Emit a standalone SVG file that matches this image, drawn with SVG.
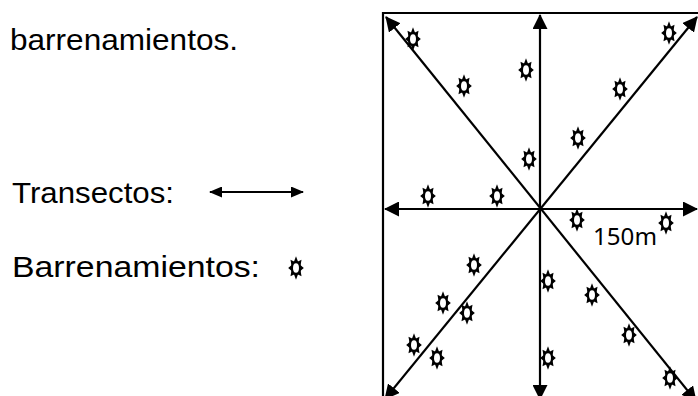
<svg xmlns="http://www.w3.org/2000/svg" xmlns:xlink="http://www.w3.org/1999/xlink" width="698" height="396" viewBox="0 0 698 396">
<style>
.t{font-family:"Liberation Sans",Arial,sans-serif;font-size:30px;fill:#000}
.m{font-family:"Noto Sans","Open Sans",sans-serif;font-size:24px;fill:#000}
.ln{stroke:#000;stroke-width:2.2;fill:none}
.ar{marker-start:url(#ah);marker-end:url(#ah)}
.arl{marker-start:url(#ahs);marker-end:url(#ahs)}
</style>
<defs>
<marker id="ah" markerUnits="userSpaceOnUse" markerWidth="15" markerHeight="15" refX="14" refY="7.5" orient="auto-start-reverse" viewBox="0 0 15 15"><path d="M0,0 L15,7.5 L0,15 z" fill="#000"/></marker>
<marker id="ahs" markerUnits="userSpaceOnUse" markerWidth="13" markerHeight="11" refX="12" refY="5.5" orient="auto-start-reverse" viewBox="0 0 13 11"><path d="M0,0 L13,5.5 L0,11 z" fill="#000"/></marker>
<g id="s">
<g transform="scale(1.15,1.12)">
<ellipse cx="0" cy="0" rx="4.4" ry="6.3" fill="#000"/>
<polygon fill="#000" points="0,-10.5 1.7,-5.8 4.8,-7.4 4.0,-2.5 6.8,0 4.0,2.5 4.8,7.4 1.7,5.8 0,10.5 -1.7,5.8 -4.8,7.4 -4.0,2.5 -6.8,0 -4.0,-2.5 -4.8,-7.4 -1.7,-5.8"/>
<ellipse cx="0" cy="0" rx="2.6" ry="4.2" fill="#fff"/>
</g>
</g>
</defs>
<rect width="698" height="396" fill="#fff"/>
<g id="text">
<text class="t" x="10" y="50" textLength="228" lengthAdjust="spacingAndGlyphs">barrenamientos.</text>
</g>
<g id="legend">
<text class="t" x="12" y="203" textLength="162" lengthAdjust="spacingAndGlyphs">Transectos:</text>
<text class="t" x="12" y="277" textLength="248" lengthAdjust="spacingAndGlyphs">Barrenamientos:</text>
<line class="ln arl" x1="210" y1="192" x2="303" y2="192"/>
<use xlink:href="#s" x="296" y="268"/>
</g>
<g id="frame">
<path class="ln" d="M383,397 V13 H699"/>
</g>
<g id="connectors">
<line class="ln ar" x1="540" y1="399" x2="540" y2="15"/>
<line class="ln ar" x1="385" y1="209" x2="697" y2="209"/>
<line class="ln ar" x1="386" y1="17" x2="696" y2="401"/>
<line class="ln ar" x1="697" y1="17" x2="385" y2="399"/>
</g>
<g id="barrenamientos">
<use xlink:href="#s" x="413" y="39"/>
<use xlink:href="#s" x="464" y="86"/>
<use xlink:href="#s" x="526" y="70"/>
<use xlink:href="#s" x="669" y="33"/>
<use xlink:href="#s" x="620" y="89"/>
<use xlink:href="#s" x="578" y="138"/>
<use xlink:href="#s" x="529" y="159"/>
<use xlink:href="#s" x="428" y="196"/>
<use xlink:href="#s" x="497" y="196"/>
<use xlink:href="#s" x="577" y="220"/>
<use xlink:href="#s" x="666" y="223"/>
<use xlink:href="#s" x="474" y="265"/>
<use xlink:href="#s" x="548" y="281"/>
<use xlink:href="#s" x="592" y="295"/>
<use xlink:href="#s" x="443" y="303"/>
<use xlink:href="#s" x="467" y="313"/>
<use xlink:href="#s" x="629" y="335"/>
<use xlink:href="#s" x="414" y="345"/>
<use xlink:href="#s" x="437" y="358"/>
<use xlink:href="#s" x="548" y="358"/>
<use xlink:href="#s" x="670" y="378"/>
</g>
<g id="label">
<text class="m" x="593" y="245" textLength="64" lengthAdjust="spacingAndGlyphs">150m</text>
</g>
</svg>
